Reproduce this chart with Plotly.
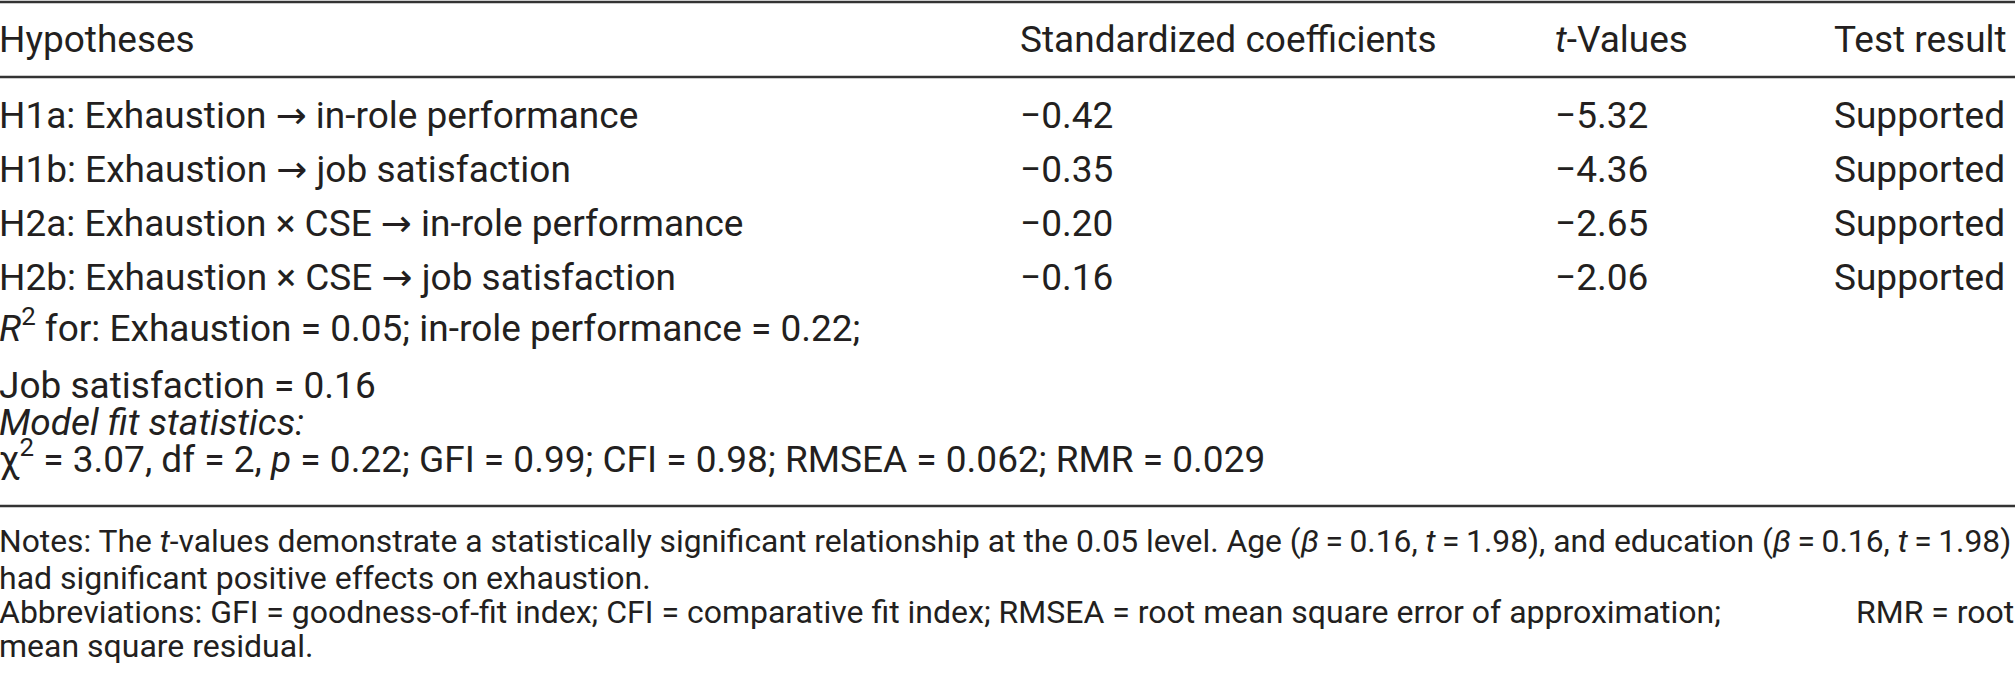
import plotly.graph_objects as go

ARROW = '<span style="font-family:DejaVu Sans">\u2192</span>'
EQ = " = "

# table content
columns = ["Hypotheses", "Standardized coefficients", "<i>t</i>-Values", "Test result"]
hypotheses = [
    f"H1a: Exhaustion {ARROW} in-role performance",
    f"H1b: Exhaustion {ARROW} job satisfaction",
    f"H2a: Exhaustion \u00d7 CSE {ARROW} in-role performance",
    f"H2b: Exhaustion \u00d7 CSE {ARROW} job satisfaction",
]
coefficients = [-0.42, -0.35, -0.20, -0.16]
t_values = [-5.32, -4.36, -2.65, -2.06]
results = ["Supported", "Supported", "Supported", "Supported"]

extra_rows = [
    f"<i>R</i><sup>2</sup> for: Exhaustion{EQ}0.05; in-role performance{EQ}0.22;",
    f"Job satisfaction{EQ}0.16",
    "<i>Model fit statistics:</i>",
    f"\u03c7<sup>2</sup>{EQ}3.07, df{EQ}2, <i>p</i>{EQ}0.22; GFI{EQ}0.99; "
    f"CFI{EQ}0.98; RMSEA{EQ}0.062; RMR{EQ}0.029",
]
notes = [
    "Notes: The <i>t</i>-values demonstrate a statistically significant relationship at the 0.05 level. "
    "Age (<i>\u03b2</i>\u2009=\u20090.16, <i>t</i>\u2009=\u20091.98), and education "
    "(<i>\u03b2</i>\u2009=\u20090.16, <i>t</i>\u2009=\u20091.98)",
    "had significant positive effects on exhaustion.",
    f"Abbreviations: GFI{EQ}goodness-of-fit index; CFI{EQ}comparative fit index; "
    f"RMSEA{EQ}root mean square error of approximation;",
    "mean square residual.",
]
notes_tail = f"RMR{EQ}root"

W, H = 2015, 686
FONT = "Roboto"
INK = "#231f20"
col_x = [0, 1018, 1553, 1832]
header_y = 39
row_y = [115, 169, 223, 277]
extra_y = [325, 385, 422, 456]
note_y = [541, 578, 612, 646]
rule_y = [2, 77, 506]


def fmt(v):
    return f"{v:.2f}".replace("-", "\u2212")


fig = go.Figure()
anns = []


def txt(x, y, s, size=37, anchor="left", shift=0):
    anns.append(dict(x=x, y=y, xref="x", yref="y", text=s, showarrow=False,
                     xanchor=anchor, yanchor="middle", xshift=shift,
                     font=dict(family=FONT, size=size, color=INK)))


for cx, c in zip(col_x, columns):
    txt(cx, header_y, c, shift=-3 if cx == 0 else 0)

for i, y in enumerate(row_y):
    txt(col_x[0], y, hypotheses[i], shift=-3)
    txt(col_x[1], y, fmt(coefficients[i]))
    txt(col_x[2], y, fmt(t_values[i]))
    txt(col_x[3], y, results[i])

for y, s in zip(extra_y, extra_rows):
    txt(0, y, s, shift=-3)

txt(0, note_y[0], notes[0], size=31.8, shift=-3)
for y, s in zip(note_y[1:], notes[1:]):
    txt(0, y, s, size=32, shift=-3)
txt(W, note_y[2], notes_tail, size=32, anchor="right", shift=1)

shapes = []
for y in rule_y:
    shapes.append(dict(type="line", xref="x", yref="y", x0=0, x1=W, y0=y, y1=y,
                       line=dict(color="#333333", width=2.5)))

fig.update_layout(
    width=W, height=H,
    margin=dict(l=0, r=0, t=0, b=0),
    paper_bgcolor="white", plot_bgcolor="white",
    xaxis=dict(range=[0, W], visible=False, fixedrange=True),
    yaxis=dict(range=[H, 0], visible=False, fixedrange=True),
    annotations=anns, shapes=shapes, showlegend=False,
)

# drop the default page margin so the table sits flush with the window
fig.write_html("out.html", config={"displayModeBar": False},
               post_script="document.body.style.margin = '0';")
